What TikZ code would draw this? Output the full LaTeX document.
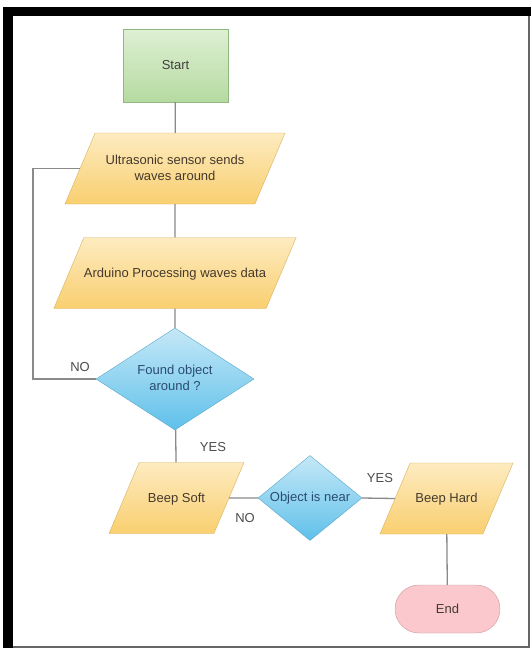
\documentclass[tikz,border=0pt]{standalone}
\usepackage{fontspec}
\setmainfont{Liberation Sans}
\usetikzlibrary{shapes.geometric}
\definecolor{wire}{HTML}{8A8A8A}
\definecolor{txt}{HTML}{45392C}
\definecolor{starttop}{HTML}{DFF0D4}
\definecolor{startbot}{HTML}{B5DAA0}
\definecolor{startdraw}{HTML}{8FB87E}
\definecolor{iotop}{HTML}{FDEBC0}
\definecolor{iobot}{HTML}{F9CF70}
\definecolor{iodraw}{HTML}{D9B25C}
\definecolor{dectop}{HTML}{C5E8F7}
\definecolor{decbot}{HTML}{5FC0EA}
\definecolor{decdraw}{HTML}{5AA8CC}
\definecolor{dectxt}{HTML}{2B4C6E}
\definecolor{endfill}{HTML}{FBC9CD}
\definecolor{enddraw}{HTML}{C9999C}
\begin{document}
\begin{tikzpicture}[x=1pt,y=-1pt,
    every node/.style={font=\fontsize{13}{16}\selectfont,text=txt},
    box/.style={rectangle,draw=startdraw,top color=starttop,bottom color=startbot,
      minimum width=105pt,minimum height=73pt,text=black!75},
    io/.style={trapezium,trapezium left angle=67,trapezium right angle=113,
      trapezium stretches body,inner sep=0pt,text height=39.5pt,text depth=31.5pt,
      draw=iodraw,top color=iotop,bottom color=iobot},
    dec/.style={diamond,draw=decdraw,top color=dectop,bottom color=decbot,
      inner sep=0pt,text=dectxt},
    term/.style={rectangle,rounded corners=24pt,draw=enddraw,fill=endfill,
      minimum width=105pt,minimum height=48pt},
    lbl/.style={text=black!70}]
  % frame
  \useasboundingbox[fill=white] (0,0) rectangle (531,648);
  \draw[black!60,line width=1.2pt] (529,16) -- (529,647) -- (13,647);
  \draw[black,line width=9pt] (3,11.5) -- (531,11.5);
  \draw[black,line width=10pt] (8,7) -- (8,648);
  % nodes
  \node[box] (start) at (175.5,65.5) {Start};
  \node[io,minimum width=220pt] (sense) at (175,168.5)
    {\begin{tabular}{@{}c@{}}Ultrasonic sensor sends\\waves around\end{tabular}};
  \node[io,minimum width=236pt] (process) at (175,273) {Arduino Processing waves data};
  \node[dec,minimum width=158pt,minimum height=102pt] (found) at (175,379)
    {\makebox[0pt]{\begin{tabular}{@{}c@{}}Found object\\around ?\end{tabular}}};
  \node[io,minimum width=135pt] (soft) at (176.5,498) {Beep Soft};
  \node[dec,minimum width=104pt,minimum height=85pt] (near) at (310,498)
    {\makebox[0pt]{Object is near}};
  \node[io,minimum width=133pt] (hard) at (446.5,498.5) {Beep Hard};
  \node[term] (end) at (447.5,609) {End};
  \coordinate (back) at (33,379);
  % connectors
  \begin{scope}[wire,line width=1.3pt]
    \draw (start) -- (sense);
    \draw (sense) -- (process);
    \draw (process) -- (found);
    \draw (found) -- (soft);
    \draw (found.west) -- (back) |- (sense.west);
    \draw (soft.east) -- (near.west);
    \draw (near.east) -- (hard.west);
    \draw (hard) -- (end);
  \end{scope}
  % labels
  \node[lbl] (no1) at (80,367) {NO};
  \node[lbl] (yes1) at (213,447) {YES};
  \node[lbl] (no2) at (245,518) {NO};
  \node[lbl] (yes2) at (380,478) {YES};
\end{tikzpicture}
\end{document}
